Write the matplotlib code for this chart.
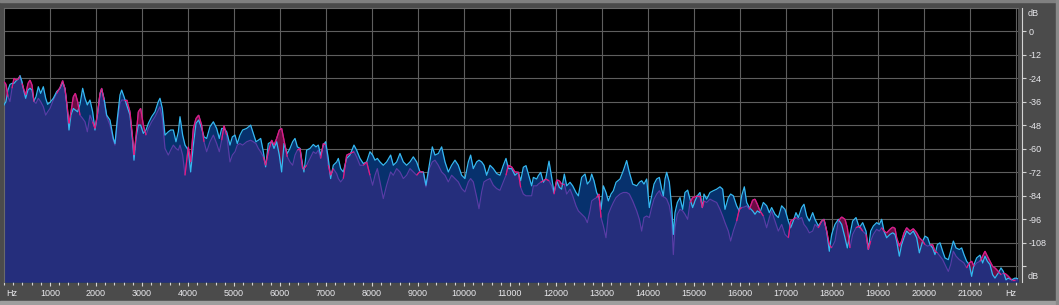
import numpy as np
import matplotlib
matplotlib.use("Agg")
import matplotlib.pyplot as plt
from matplotlib.patches import Rectangle
from matplotlib.ticker import MultipleLocator, FixedLocator
from matplotlib.collections import LineCollection
from matplotlib.transforms import blended_transform_factory

# ---------------- data (frequency in kHz, levels in dB) ----------------
freq_khz = [
    0.000, 0.043, 0.087, 0.130, 0.174, 0.217, 0.261, 0.312, 0.348, 0.391,
    0.435, 0.471, 0.522, 0.565, 0.609, 0.652, 0.696, 0.746, 0.797, 0.855,
    0.906, 0.949, 1.000, 1.072, 1.145, 1.217, 1.275, 1.326, 1.370, 1.413,
    1.456, 1.507, 1.551, 1.601, 1.652, 1.710, 1.761, 1.812, 1.869, 1.927,
    1.978, 2.029, 2.087, 2.123, 2.174, 2.232, 2.304, 2.377, 2.413, 2.464,
    2.522, 2.558, 2.609, 2.667, 2.739, 2.797, 2.826, 2.869, 2.920, 2.971,
    3.029, 3.087, 3.138, 3.210, 3.283, 3.355, 3.391, 3.442, 3.500, 3.572,
    3.623, 3.681, 3.739, 3.790, 3.826, 3.884, 3.935, 4.007, 4.058, 4.116,
    4.174, 4.232, 4.297, 4.348, 4.406, 4.478, 4.551, 4.623, 4.681, 4.732,
    4.783, 4.841, 4.913, 4.964, 5.022, 5.072, 5.130, 5.188, 5.275, 5.362,
    5.420, 5.478, 5.529, 5.580, 5.638, 5.688, 5.746, 5.819, 5.870, 5.927,
    5.985, 6.036, 6.087, 6.159, 6.217, 6.275, 6.326, 6.377, 6.435, 6.492,
    6.521, 6.579, 6.652, 6.724, 6.782, 6.833, 6.884, 6.942, 6.992, 7.050,
    7.101, 7.159, 7.232, 7.268, 7.319, 7.376, 7.449, 7.521, 7.608, 7.666,
    7.739, 7.811, 7.884, 7.956, 8.014, 8.065, 8.116, 8.174, 8.246, 8.318,
    8.405, 8.463, 8.536, 8.608, 8.681, 8.753, 8.826, 8.898, 8.971, 9.043,
    9.116, 9.173, 9.246, 9.311, 9.369, 9.442, 9.514, 9.587, 9.659, 9.731,
    9.804, 9.876, 9.949, 10.021, 10.094, 10.144, 10.202, 10.275, 10.326, 10.384,
    10.434, 10.492, 10.565, 10.637, 10.710, 10.782, 10.855, 10.913, 10.963, 11.036,
    11.108, 11.182, 11.232, 11.290, 11.348, 11.399, 11.471, 11.508, 11.580, 11.616,
    11.667, 11.725, 11.776, 11.848, 11.906, 11.957, 12.015, 12.073, 12.123, 12.181,
    12.232, 12.305, 12.363, 12.435, 12.486, 12.558, 12.631, 12.681, 12.739, 12.776,
    12.826, 12.884, 12.935, 12.979, 13.029, 13.087, 13.138, 13.196, 13.247, 13.305,
    13.392, 13.464, 13.500, 13.536, 13.594, 13.667, 13.754, 13.812, 13.863, 13.913,
    13.971, 14.029, 14.080, 14.131, 14.189, 14.247, 14.297, 14.334, 14.370, 14.406,
    14.464, 14.515, 14.551, 14.587, 14.638, 14.696, 14.754, 14.804, 14.862, 14.913,
    14.971, 15.022, 15.073, 15.131, 15.181, 15.217, 15.275, 15.348, 15.420, 15.493,
    15.565, 15.623, 15.674, 15.746, 15.797, 15.855, 15.927, 15.986, 16.036, 16.094,
    16.145, 16.203, 16.275, 16.326, 16.377, 16.435, 16.507, 16.580, 16.638, 16.688,
    16.761, 16.833, 16.906, 16.978, 17.051, 17.102, 17.159, 17.217, 17.268, 17.341,
    17.391, 17.449, 17.507, 17.580, 17.630, 17.703, 17.775, 17.826, 17.884, 17.942,
    17.993, 18.065, 18.138, 18.210, 18.283, 18.333, 18.391, 18.449, 18.522, 18.594,
    18.667, 18.739, 18.790, 18.841, 18.899, 18.971, 19.029, 19.080, 19.130, 19.188,
    19.261, 19.319, 19.370, 19.406, 19.464, 19.514, 19.565, 19.623, 19.696, 19.768,
    19.841, 19.899, 19.971, 20.022, 20.080, 20.130, 20.188, 20.239, 20.290, 20.348,
    20.406, 20.456, 20.529, 20.580, 20.638, 20.696, 20.768, 20.819, 20.869, 20.927,
    20.985, 21.036, 21.087, 21.145, 21.217, 21.275, 21.326, 21.377, 21.435, 21.492,
    21.543, 21.616, 21.674, 21.725, 21.783, 21.833, 21.906, 21.978, 22.050,
]

# channel drawn with the cyan outline
cyan_db = [
    -37.6, -35.9, -30.0, -27.1, -26.6, -26.6, -25.4, -24.3, -22.6, -25.7,
    -30.8, -34.2, -30.0, -29.1, -30.0, -35.6, -33.4, -28.3, -31.7, -28.3,
    -34.2, -37.3, -36.3, -34.2, -30.8, -29.1, -26.0, -29.1, -38.5, -50.4,
    -42.8, -39.4, -40.2, -41.1, -37.3, -29.1, -34.2, -37.6, -35.1, -41.1,
    -50.4, -42.8, -32.2, -29.5, -34.2, -42.8, -45.3, -54.7, -57.3, -44.5,
    -32.5, -30.0, -33.4, -37.6, -42.8, -56.4, -65.8, -54.7, -47.9, -47.9,
    -52.1, -50.4, -47.0, -43.6, -41.1, -35.9, -34.2, -39.4, -53.0, -51.3,
    -50.4, -50.4, -56.4, -51.3, -43.6, -53.0, -58.1, -60.7, -71.8, -58.1,
    -47.0, -45.3, -49.6, -53.9, -54.7, -48.7, -46.2, -49.6, -54.7, -49.6,
    -49.6, -51.3, -58.1, -53.9, -53.0, -57.3, -53.0, -50.4, -49.6, -47.9,
    -52.1, -56.4, -55.6, -54.7, -61.5, -69.2, -57.3, -56.4, -59.8, -56.4,
    -63.2, -71.8, -57.3, -62.4, -59.8, -56.4, -54.7, -59.0, -59.8, -68.4,
    -71.8, -60.7, -59.8, -57.8, -59.0, -58.1, -63.2, -58.1, -56.4, -64.9,
    -75.2, -68.4, -66.7, -64.9, -70.1, -71.8, -64.9, -63.2, -58.1, -60.7,
    -64.9, -67.5, -66.7, -61.5, -63.2, -65.8, -64.9, -66.7, -68.4, -66.7,
    -63.2, -68.4, -66.7, -62.4, -66.7, -68.4, -66.7, -64.1, -66.7, -71.8,
    -71.8, -78.6, -68.4, -59.0, -63.2, -62.4, -59.0, -66.7, -71.8, -68.4,
    -65.8, -68.4, -73.5, -75.2, -66.7, -63.2, -70.1, -66.7, -65.8, -66.7,
    -68.4, -73.5, -68.4, -70.1, -72.6, -73.5, -68.4, -64.9, -70.1, -70.1,
    -73.5, -72.0, -76.3, -69.4, -68.6, -72.9, -78.9, -74.6, -75.4, -73.7,
    -72.0, -77.1, -75.4, -66.3, -74.6, -82.3, -76.3, -79.7, -80.6, -72.9,
    -78.9, -77.1, -78.9, -82.3, -84.0, -74.6, -72.9, -78.0, -76.3, -72.9,
    -76.3, -82.3, -84.9, -90.9, -78.9, -82.3, -86.6, -83.1, -81.4, -77.1,
    -75.4, -71.1, -68.6, -66.0, -72.0, -78.0, -78.9, -77.1, -76.3, -78.0,
    -75.4, -90.0, -84.0, -78.0, -75.4, -74.6, -80.6, -84.0, -75.4, -72.0,
    -77.1, -90.0, -103.7, -92.6, -87.4, -84.9, -90.9, -82.3, -81.1, -85.7,
    -90.0, -86.6, -84.0, -82.3, -90.0, -83.1, -85.7, -82.3, -81.4, -80.6,
    -79.4, -80.6, -90.9, -84.9, -83.1, -84.0, -89.1, -91.7, -84.0, -79.4,
    -87.4, -90.0, -91.7, -93.4, -91.7, -92.6, -87.4, -89.1, -92.6, -90.0,
    -93.4, -95.1, -89.1, -90.9, -96.9, -100.3, -96.9, -92.6, -95.1, -90.0,
    -88.3, -94.3, -96.9, -92.6, -96.0, -99.4, -96.9, -96.0, -102.0, -112.3,
    -103.7, -98.6, -96.0, -98.6, -105.4, -110.6, -103.7, -96.9, -95.1, -100.3,
    -97.7, -102.0, -111.4, -102.0, -99.4, -97.7, -98.6, -96.0, -102.0, -105.4,
    -103.7, -102.9, -103.7, -107.1, -114.8, -108.9, -105.4, -102.0, -103.7, -102.0,
    -105.4, -113.1, -107.1, -104.6, -105.4, -108.9, -110.6, -114.0, -108.9, -108.0,
    -112.3, -115.7, -116.6, -112.3, -107.1, -110.6, -111.4, -110.6, -114.0, -117.4,
    -119.1, -125.1, -119.1, -115.7, -114.3, -118.3, -114.8, -117.4, -119.1, -124.3,
    -126.0, -123.4, -120.8, -122.6, -126.9, -126.0, -126.9, -126.0, -126.3,
]

# channel drawn with the pink outline
pink_db = [
    -25.7, -27.1, -33.4, -35.9, -29.1, -24.0, -24.9, -24.3, -23.0, -26.6,
    -30.0, -32.5, -26.6, -24.9, -27.4, -35.9, -36.8, -34.2, -35.9, -38.5,
    -42.8, -41.1, -39.4, -35.1, -31.7, -28.8, -25.2, -29.5, -37.6, -47.0,
    -41.1, -33.4, -31.7, -35.9, -42.8, -44.5, -46.2, -51.3, -42.8, -46.2,
    -49.6, -42.8, -31.7, -29.1, -35.1, -43.6, -47.9, -55.6, -58.1, -46.2,
    -36.8, -35.1, -35.1, -35.1, -41.1, -54.7, -63.2, -53.9, -41.1, -39.4,
    -47.9, -53.0, -49.6, -46.2, -43.6, -40.2, -38.5, -44.5, -59.8, -63.2,
    -60.7, -58.1, -59.8, -60.7, -58.1, -63.2, -73.5, -59.0, -66.7, -49.6,
    -44.5, -42.8, -47.9, -56.4, -61.5, -56.4, -53.0, -57.3, -61.5, -55.6,
    -48.2, -53.0, -66.7, -63.2, -61.5, -58.1, -57.3, -58.1, -56.4, -55.6,
    -56.4, -57.3, -59.8, -61.5, -64.1, -68.4, -61.5, -55.6, -58.1, -54.7,
    -50.4, -49.6, -55.6, -64.1, -66.7, -68.4, -63.2, -60.7, -59.8, -70.1,
    -70.1, -68.4, -64.9, -61.5, -62.4, -60.7, -64.9, -57.3, -58.1, -68.4,
    -73.5, -70.1, -72.7, -75.2, -76.9, -75.2, -63.2, -62.4, -61.5, -64.1,
    -68.4, -68.4, -66.7, -73.5, -78.6, -73.5, -70.1, -76.9, -85.4, -78.6,
    -71.8, -73.5, -70.1, -71.8, -75.2, -73.5, -70.1, -71.8, -73.5, -71.5,
    -72.1, -79.5, -70.1, -66.7, -65.8, -68.4, -71.8, -73.5, -76.9, -73.5,
    -75.2, -76.9, -80.3, -82.0, -76.9, -75.2, -76.9, -84.6, -90.6, -82.0,
    -76.9, -76.0, -75.2, -78.6, -80.3, -81.2, -76.9, -73.5, -68.4, -69.2,
    -71.8, -72.0, -79.7, -83.1, -84.0, -84.0, -84.0, -78.9, -78.9, -78.0,
    -77.1, -76.3, -75.4, -76.3, -78.9, -83.1, -75.9, -76.3, -78.0, -78.0,
    -83.1, -80.6, -84.0, -89.1, -91.7, -93.4, -95.1, -97.7, -91.7, -86.6,
    -85.7, -84.9, -83.1, -95.1, -99.4, -105.4, -93.4, -90.0, -87.4, -84.9,
    -83.1, -82.3, -82.3, -82.3, -83.1, -86.6, -91.7, -96.0, -102.0, -95.1,
    -94.3, -95.1, -90.0, -85.7, -83.1, -81.4, -84.0, -84.5, -84.9, -85.7,
    -89.1, -96.0, -114.0, -100.3, -93.4, -90.9, -91.7, -93.4, -96.0, -87.4,
    -84.9, -84.5, -84.0, -84.0, -90.0, -86.6, -87.4, -85.7, -86.6, -87.4,
    -90.9, -94.3, -97.7, -102.0, -107.1, -102.0, -96.9, -90.9, -90.0, -89.7,
    -89.1, -90.9, -86.2, -85.7, -88.3, -91.7, -94.3, -100.3, -95.1, -91.7,
    -96.9, -102.0, -98.6, -103.7, -105.4, -96.9, -96.0, -95.1, -96.0, -95.1,
    -98.6, -100.3, -102.9, -102.0, -98.6, -100.3, -96.9, -96.0, -102.0, -108.9,
    -110.6, -107.1, -96.9, -94.8, -96.0, -100.3, -110.6, -103.7, -100.3, -99.4,
    -102.0, -103.7, -111.4, -107.1, -103.7, -101.1, -102.0, -100.3, -102.0, -102.9,
    -101.1, -100.0, -100.6, -105.4, -109.7, -107.1, -102.9, -100.3, -102.0, -100.8,
    -102.9, -105.4, -107.1, -108.9, -109.7, -109.2, -108.9, -112.3, -113.1, -114.8,
    -116.6, -119.1, -122.6, -119.1, -112.3, -114.8, -116.6, -117.4, -118.3, -120.8,
    -118.3, -117.4, -120.0, -118.3, -117.4, -114.8, -112.3, -114.8, -117.4, -120.0,
    -120.8, -122.6, -124.3, -123.4, -124.0, -125.1, -126.9, -126.9, -126.9,
]

x_tick_hz = list(range(1000, 22000, 1000))
x_tick_labels = [str(v) for v in x_tick_hz]
y_tick_db = [0, -12, -24, -36, -48, -60, -72, -84, -96, -108, -120]
y_tick_labels = ["0", "-12", "-24", "-36", "-48", "-60", "-72", "-84", "-96", "-108", ""]

# ---------------- styling ----------------
W, H = 1059, 305
BG = "#4b4b4b"
NAVY = "#252e7c"
DARKBLUE = "#07316d"
CRIMSON = "#6c0c44"
CYAN = "#35b8f2"
PINK = "#e6197e"
PURPLE = "#5a3ca6"
GRID = "#5e5e5e"
TXT = "#e8e8ec"
TICK = "#d4d4d4"

f = np.array(freq_khz) * 1000.0
c = np.array(cyan_db)
p = np.array(pink_db)

fig = plt.figure(figsize=(W / 100, H / 100), dpi=100, facecolor=BG)
ax = fig.add_axes([4 / W, 23 / H, 1014.3 / W, 274 / H])
ax.set_facecolor("black")
YMIN, YMAX = -128.0, 11.9
ax.set_xlim(0, 22050)
ax.set_ylim(YMIN, YMAX)

# grid
for xv in range(1000, 23000, 1000):
    ax.axvline(xv, color=GRID, lw=0.8, zorder=0.5)
for yv in range(0, -121, -12):
    ax.axhline(yv, color=GRID, lw=0.8, zorder=0.5)

# fills
ax.fill_between(f, YMIN, c, color=DARKBLUE, lw=0, zorder=1)
ax.fill_between(f, c, p, where=p > c, interpolate=True, color=CRIMSON, lw=0, zorder=1.5)
ax.fill_between(f, YMIN, np.minimum(c, p), color=NAVY, lw=0, zorder=2)

# outlines
ax.plot(f, p, color=PURPLE, lw=0.85, zorder=3)
ax.plot(f, c, color=CYAN, lw=0.9, zorder=4)
pts = np.column_stack([f, p])
segs, above = [], p >= c
for i in range(len(f) - 1):
    if above[i] or above[i + 1]:
        segs.append([pts[i], pts[i + 1]])
ax.add_collection(LineCollection(segs, colors=PINK, linewidths=0.9, zorder=5))

# spines
for s in ["left", "top"]:
    ax.spines[s].set_color("#6a6a6a")
    ax.spines[s].set_linewidth(0.8)
ax.spines["bottom"].set_visible(False)
ax.spines["right"].set_position(("outward", 3))
ax.spines["right"].set_linestyle((0, (1, 1)))
ax.spines["right"].set_color(TICK)
ax.spines["right"].set_linewidth(0.8)

# x axis
ax.xaxis.set_major_locator(FixedLocator(x_tick_hz))
ax.set_xticklabels(x_tick_labels)
ax.xaxis.set_minor_locator(MultipleLocator(200))
ax.tick_params(axis="x", which="major", direction="out", length=3.2, width=0.8,
               color=TICK, pad=1.5, labelsize=6.5, labelcolor=TXT)
ax.tick_params(axis="x", which="minor", direction="out", length=1.8, width=0.8, color=TICK)

# y axis on right
ax.yaxis.tick_right()
ax.yaxis.set_major_locator(FixedLocator(y_tick_db))
ax.set_yticklabels(y_tick_labels)
ax.tick_params(axis="y", which="major", direction="out", length=3, width=0.8,
               color=TICK, pad=1.5, labelsize=6.5, labelcolor=TXT)
for lab in ax.get_xticklabels() + ax.get_yticklabels():
    lab.set_fontfamily(["Liberation Sans", "DejaVu Sans"])

tr = blended_transform_factory(ax.transAxes, ax.transData)
kw = dict(fontsize=6.5, color=TXT, family=["Liberation Sans", "DejaVu Sans"],
          textcoords="offset pixels", annotation_clip=False)
ax.annotate("dB", xy=(1, 9.3), xycoords=tr, xytext=(9, 0), ha="left", va="center", **kw)
ax.annotate("dB", xy=(1, -125.4), xycoords=tr, xytext=(9, 0), ha="left", va="center", **kw)
ax.annotate("Hz", xy=(0, 0), xycoords="axes fraction", xytext=(7.5, -11),
            ha="center", va="center", **kw)
ax.annotate("Hz", xy=(1, 0), xycoords="axes fraction", xytext=(-7.5, -11),
            ha="center", va="center", **kw)

# window frame
fig.patches.append(Rectangle((0, 1 - 2 / H), 1, 2 / H, transform=fig.transFigure,
                             color="#808080", zorder=0))
fig.patches.append(Rectangle((0, 0), 1, 4 / H, transform=fig.transFigure,
                             color="#9e9e9e", zorder=0))
fig.patches.append(Rectangle((1 - 3 / W, 0), 3 / W, 1, transform=fig.transFigure,
                             color="#8a8a8a", zorder=0))

fig.savefig("out.png", dpi=100, facecolor=BG)
